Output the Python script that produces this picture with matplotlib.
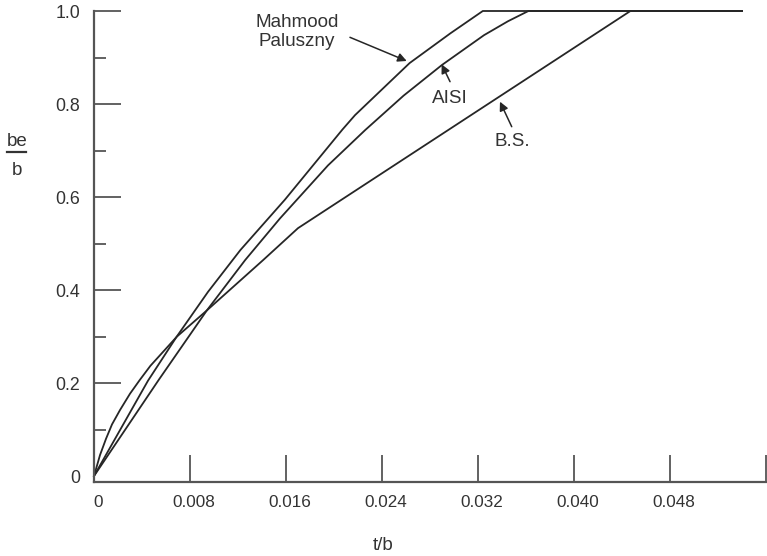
import matplotlib
matplotlib.use("Agg")
import matplotlib.pyplot as plt
import matplotlib.transforms as mtransforms

plt.rcParams['font.family'] = ['Liberation Sans', 'DejaVu Sans']

# Effective width ratio be/b versus thickness ratio t/b
mahmood_t = [0, 0.0045, 0.0069, 0.0095, 0.0122, 0.0159, 0.0207, 0.02175, 0.0263, 0.0297, 0.0324, 0.054]
mahmood_v = [0, 0.205, 0.300, 0.396, 0.486, 0.594, 0.745, 0.776, 0.888, 0.952, 1.0, 1.0]

aisi_t = [0, 0.0054, 0.0094, 0.0126, 0.0155, 0.0195, 0.0226, 0.0258, 0.029, 0.0325, 0.0345, 0.0362, 0.054]
aisi_v = [0, 0.207, 0.356, 0.4645, 0.554, 0.668, 0.744, 0.818, 0.884, 0.948, 0.978, 1.0, 1.0]

bs_t = [0, 0.0005, 0.001, 0.0015, 0.00217, 0.003, 0.0038, 0.0047, 0.0069, 0.0094, 0.0141, 0.017, 0.0447, 0.054]
bs_v = [0, 0.045, 0.080, 0.111, 0.142, 0.177, 0.206, 0.237, 0.2996, 0.356, 0.4645, 0.533, 1.0, 1.0]

x_ticks = [0, 0.008, 0.016, 0.024, 0.032, 0.040, 0.048, 0.056]
x_labels = ["0", "0.008", "0.016", "0.024", "0.032", "0.040", "0.048", ""]
y_ticks = [0, 0.2, 0.4, 0.6, 0.8, 1.0]
y_labels = ["0", "0.2", "0.4", "0.6", "0.8", "1.0"]
y_minor = [0.1, 0.3, 0.5, 0.7, 0.9]

W, H = 767, 556
fig = plt.figure(figsize=(W / 100, H / 100), dpi=100)
left, right = 94 / W, 766 / W
top_px, bot_px = 11, 481.5
ax = fig.add_axes([left, 1 - bot_px / H, right - left, (bot_px - top_px) / H])

line_col = "#262626"
axis_col = "#555555"
text_col = "#333333"

for tt, vv in [(mahmood_t, mahmood_v), (aisi_t, aisi_v), (bs_t, bs_v)]:
    ax.plot(tt, vv, color=line_col, lw=1.3, clip_on=False, solid_joinstyle='round')

ax.set_xlim(0, 0.056)
ax.set_ylim(-0.0118, 1.0)

for s in ("top", "right"):
    ax.spines[s].set_visible(False)
for s in ("left", "bottom"):
    ax.spines[s].set_color(axis_col)
    ax.spines[s].set_linewidth(1.6)

ax.set_xticks(x_ticks)
ax.set_xticklabels(x_labels)
ax.set_yticks(y_ticks)
ax.set_yticklabels(y_labels)
ax.set_yticks(y_minor, minor=True)

ax.tick_params(axis='x', direction='in', length=27 * 0.72, width=1.3, color=axis_col,
               pad=9.5, labelsize=12.3, labelcolor=text_col)
ax.tick_params(axis='y', which='major', direction='in', length=27 * 0.72, width=1.3,
               color=axis_col, pad=10, labelsize=12.8, labelcolor=text_col)
ax.tick_params(axis='y', which='minor', direction='in', length=12 * 0.72, width=1.3,
               color=axis_col)

ax.xaxis.get_major_ticks()[0].tick1line.set_visible(False)
ax.yaxis.get_major_ticks()[0].tick1line.set_visible(False)

shift = mtransforms.ScaledTranslation(4 / 100, 0, fig.dpi_scale_trans)
for lab in ax.get_xticklabels():
    lab.set_transform(lab.get_transform() + shift)

# Axis titles
fig.text(383 / W, 1 - 546 / H, "t/b", ha='center', va='center', fontsize=13.5, color=text_col)
fig.text(16.7 / W, 1 - 146 / H, "be", ha='center', va='baseline', fontsize=13.5, color=text_col)
fig.text(16.7 / W, 1 - 175 / H, "b", ha='center', va='baseline', fontsize=13.5, color=text_col)
fig.add_artist(plt.Line2D([7.3 / W, 26 / W], [1 - 152.3 / H, 1 - 152.3 / H],
                          color=text_col, lw=1.6))

arrow = dict(arrowstyle='-|>', color=line_col, lw=1.1, mutation_scale=13,
             shrinkA=0, shrinkB=0)

ax.text(0.01692, 0.9548, "Mahmood\nPaluszny", ha='center', va='center',
        fontsize=13.6, color=text_col, linespacing=1.2)
ax.annotate("", xy=(0.02606, 0.8925), xytext=(0.02133, 0.9434), arrowprops=arrow)

ax.text(0.02967, 0.8108, "AISI", ha='center', va='center', fontsize=13.6, color=text_col)
ax.annotate("", xy=(0.02897, 0.8854), xytext=(0.02967, 0.848), arrowprops=arrow)

ax.text(0.03486, 0.719, "B.S.", ha='center', va='center', fontsize=13.6, color=text_col)
ax.annotate("", xy=(0.03383, 0.805), xytext=(0.03481, 0.7512), arrowprops=arrow)

fig.savefig("out.png", dpi=100)
